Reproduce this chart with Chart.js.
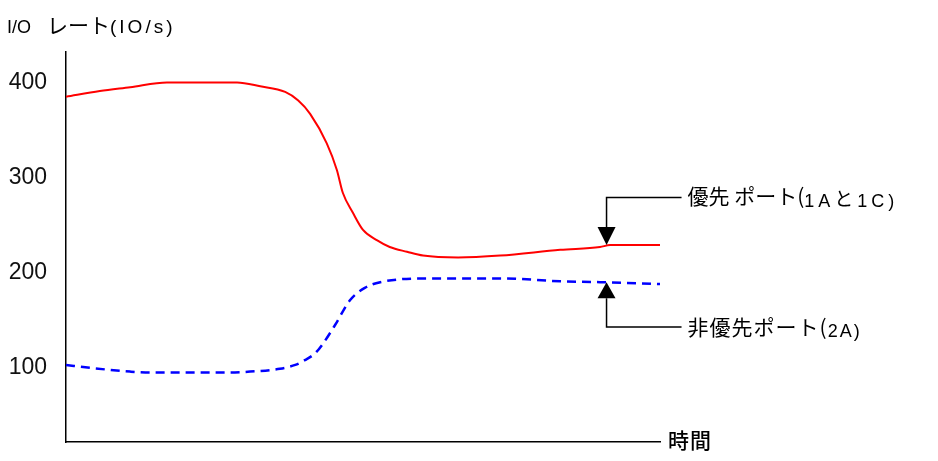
<!DOCTYPE html>
<html>
<head>
<meta charset="utf-8">
<script src="https://cdn.jsdelivr.net/npm/chart.js@4.4.1/dist/chart.umd.min.js"></script>
<style>
    html, body { margin: 0; padding: 0; background: #fff; }
    #wrap { width: 938px; height: 461px; }
</style>
</head>
<body>
<div id="wrap"><canvas id="chart"></canvas></div>
<script>
// time axis is unitless (0..100)
const priorityTime = [0, 5.7, 10.8, 17, 28.8, 32.7, 36.9, 39.1, 41.1, 43.9, 45.6, 46.6, 48.3, 50, 52.4, 54.5, 57.4, 60.1, 66, 73.1, 83.2, 89.9, 91.6, 100];
const priorityRate = [385, 391, 395, 400, 400, 396, 390, 381, 367, 336, 308, 284, 263, 245, 234, 227, 222, 218, 216, 218, 224, 227, 229, 229];
const nonPriorityTime = [0, 4, 10.8, 14.1, 27.6, 31, 36, 38.6, 40.2, 41.9, 43.1, 45.3, 47.8, 50.3, 52.9, 61.3, 73.1, 83.2, 89.9, 100];
const nonPriorityRate = [103, 100, 96, 95, 95, 96, 99, 103, 108, 115, 124, 145, 171, 184, 190, 194, 194, 191, 190, 188];
const yTicks = [100, 200, 300, 400];

const pointerTime = 91;
const priorityLabelRate = 279;
const nonPriorityLabelRate = 143;
const priorityTipRate = 229;
const nonPriorityTipRate = 190;

const JP = '"Noto Sans CJK JP", sans-serif';
const LAT = '"Liberation Sans", Arial, sans-serif';

function points(xs, ys) {
    return xs.map((x, i) => ({ x, y: ys[i] }));
}

// parts: [text, font, dy, letterSpacing] or a number = horizontal gap
function drawParts(ctx, x, y, parts) {
    ctx.textBaseline = 'alphabetic';
    ctx.textAlign = 'left';
    for (const p of parts) {
        if (typeof p === 'number') { x += p; continue; }
        const [text, font, dy, spacing] = p;
        ctx.font = font;
        ctx.letterSpacing = (spacing || 0) + 'px';
        ctx.fillText(text, x, y + dy);
        x += ctx.measureText(text).width;
    }
    ctx.letterSpacing = '0px';
}

function drawPointer(ctx, x, tipY, lineY, up, parts) {
    const baseY = up ? tipY + 16 : tipY - 18;
    ctx.strokeStyle = '#000';
    ctx.fillStyle = '#000';
    ctx.lineWidth = 1.5;
    ctx.beginPath();
    ctx.moveTo(x + 75, lineY);
    ctx.lineTo(x, lineY);
    ctx.lineTo(x, baseY);
    ctx.stroke();
    ctx.beginPath();
    ctx.moveTo(x, tipY);
    ctx.lineTo(x - 9, baseY);
    ctx.lineTo(x + 9, baseY);
    ctx.closePath();
    ctx.fill();
    drawParts(ctx, x + 81, lineY + 8, parts);
}

const annotations = {
    id: 'annotations',
    afterDraw(chart) {
        const { ctx, scales: { x, y } } = chart;
        ctx.save();
        ctx.fillStyle = '#000';
        // axis titles
        drawParts(ctx, 7, 33, [
            ['I/O', '18px ' + LAT, 0],
            16,
            ['レート', '21px ' + JP, 0],
            ['(IO/s)', '19px ' + LAT, 0, 3],
        ]);
        drawParts(ctx, x.right + 8, y.bottom + 6, [['時間', '500 21px ' + JP, 0, 1]]);

        const px = x.getPixelForValue(pointerTime);
        drawPointer(ctx, px, y.getPixelForValue(priorityTipRate), y.getPixelForValue(priorityLabelRate), false, [
            ['優先 ポート(', '21px ' + JP, -2],
            ['1A', '18px ' + LAT, 1, 4],
            ['と', '19px ' + JP, 0],
            4,
            ['1C)', '18px ' + LAT, 1, 4],
        ]);
        drawPointer(ctx, px, y.getPixelForValue(nonPriorityTipRate), y.getPixelForValue(nonPriorityLabelRate), true, [
            ['非優先ポート(', '21px ' + JP, 0, 1],
            ['2A)', '18px ' + LAT, 2, 2],
        ]);
        ctx.restore();
    },
};

new Chart(document.getElementById('chart').getContext('2d'), {
    type: 'line',
    data: {
        datasets: [
            {
                label: '優先ポート(1A と 1C)',
                data: points(priorityTime, priorityRate),
                borderColor: '#ff0000',
                borderWidth: 2,
                pointRadius: 0,
                cubicInterpolationMode: 'monotone',
                fill: false,
            },
            {
                label: '非優先ポート(2A)',
                data: points(nonPriorityTime, nonPriorityRate),
                borderColor: '#0000ff',
                borderWidth: 2.5,
                borderDash: [9, 6],
                pointRadius: 0,
                cubicInterpolationMode: 'monotone',
                fill: false,
            },
        ],
    },
    options: {
        responsive: true,
        maintainAspectRatio: false,
        animation: false,
        layout: { padding: { top: 52, right: 278, bottom: 19, left: 0 } },
        plugins: {
            legend: { display: false },
            tooltip: { enabled: false },
        },
        scales: {
            x: {
                type: 'linear',
                min: 0,
                max: 100,
                grid: { display: false, drawTicks: false },
                border: { display: true, color: '#000', width: 1.5 },
                ticks: { display: false },
                afterFit(s) { s.height = 0; s.paddingLeft = 0; s.paddingRight = 0; },
            },
            y: {
                min: 22,
                max: 432,
                grid: { display: false, drawTicks: false },
                border: { display: true, color: '#000', width: 1.5 },
                afterBuildTicks(s) { s.ticks = yTicks.map(v => ({ value: v })); },
                afterFit(s) { s.width = 66; s.paddingTop = 0; s.paddingBottom = 0; },
                ticks: {
                    color: '#111',
                    padding: 19,
                    font: { family: LAT, size: 23 },
                },
            },
        },
    },
    plugins: [annotations],
});
</script>
</body>
</html>
